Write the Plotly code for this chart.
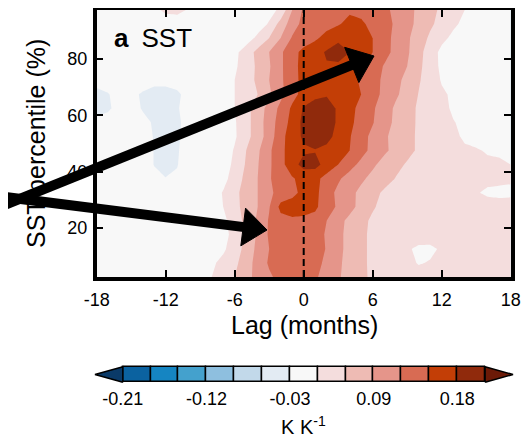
import plotly.graph_objects as go

# The page body has a default 8px margin, so the figure is sized to the
# window minus that margin and all window-pixel positions are shifted by it.
WIN_W, WIN_H = 529, 440
OFF = 8
W, H = WIN_W - OFF, WIN_H - OFF
FONT = "Liberation Sans, Arial, Helvetica, sans-serif"

# ---------------- data ----------------
lags = list(range(-18, 19))  # months
percentiles = [2.5, 7.5, 12.5, 17.5, 22.5, 27.5, 32.5, 37.5, 42.5, 47.5,
               52.5, 57.5, 62.5, 67.5, 72.5, 77.5, 82.5, 87.5, 92.5, 97.5]

# regression of SST (K per K) at each lag (-18..18) for each percentile row
row_02 = [0.005, 0.008, 0.01, 0.01, 0.01, 0.008, 0.008, 0.01, 0.012, 0.015, 0.03, 0.045, 0.06, 0.08, 0.1, 0.115, 0.13, 0.138, 0.135, 0.125, 0.105, 0.093, 0.08, 0.066, 0.055, 0.047, 0.042, 0.038, 0.036, 0.035, 0.035, 0.035, 0.035, 0.035, 0.035, 0.035, 0.034]
row_07 = [0.008, 0.01, 0.012, 0.012, 0.012, 0.01, 0.008, 0.008, 0.01, 0.015, 0.025, 0.038, 0.052, 0.078, 0.1, 0.124, 0.138, 0.145, 0.142, 0.13, 0.113, 0.095, 0.08, 0.066, 0.054, 0.045, 0.039, 0.034, 0.029, 0.031, 0.034, 0.036, 0.036, 0.036, 0.036, 0.035, 0.034]
row_12 = [0.01, 0.01, 0.012, 0.012, 0.01, 0.008, 0.006, 0.006, 0.008, 0.01, 0.012, 0.025, 0.045, 0.07, 0.098, 0.12, 0.138, 0.145, 0.143, 0.134, 0.118, 0.098, 0.08, 0.066, 0.054, 0.045, 0.038, 0.032, 0.027, 0.027, 0.032, 0.035, 0.036, 0.037, 0.037, 0.037, 0.037]
row_17 = [0.01, 0.012, 0.012, 0.01, 0.01, 0.008, 0.007, 0.006, 0.007, 0.009, 0.012, 0.02, 0.04, 0.065, 0.095, 0.124, 0.138, 0.144, 0.143, 0.135, 0.116, 0.098, 0.08, 0.066, 0.054, 0.047, 0.043, 0.04, 0.038, 0.037, 0.037, 0.037, 0.037, 0.038, 0.038, 0.038, 0.038]
row_22 = [0.01, 0.012, 0.012, 0.01, 0.01, 0.008, 0.006, 0.006, 0.008, 0.01, 0.012, 0.022, 0.045, 0.068, 0.095, 0.123, 0.14, 0.147, 0.146, 0.14, 0.12, 0.1, 0.082, 0.068, 0.055, 0.048, 0.044, 0.041, 0.04, 0.039, 0.038, 0.037, 0.037, 0.037, 0.037, 0.038, 0.038]
row_27 = [0.012, 0.012, 0.01, 0.01, 0.008, 0.006, 0.004, 0.004, 0.006, 0.01, 0.015, 0.03, 0.05, 0.072, 0.09, 0.118, 0.158, 0.158, 0.157, 0.155, 0.135, 0.115, 0.1, 0.08, 0.063, 0.052, 0.046, 0.042, 0.04, 0.038, 0.037, 0.036, 0.035, 0.035, 0.035, 0.035, 0.036]
row_32 = [0.01, 0.012, 0.01, 0.008, 0.004, 0.0, -0.005, -0.008, -0.005, 0.0, 0.015, 0.032, 0.052, 0.072, 0.09, 0.113, 0.132, 0.145, 0.155, 0.158, 0.133, 0.113, 0.098, 0.083, 0.068, 0.056, 0.048, 0.043, 0.04, 0.038, 0.036, 0.035, 0.033, 0.031, 0.028, 0.027, 0.027]
row_37 = [0.005, 0.005, 0.002, 0.0, -0.008, -0.022, -0.0295, -0.027, -0.015, -0.005, 0.008, 0.02, 0.044, 0.068, 0.09, 0.117, 0.135, 0.147, 0.16, 0.158, 0.14, 0.124, 0.108, 0.095, 0.082, 0.07, 0.059, 0.05, 0.044, 0.04, 0.037, 0.035, 0.034, 0.034, 0.033, 0.033, 0.032]
row_42 = [-0.01, -0.008, -0.005, -0.005, -0.015, -0.031, -0.035, -0.031, -0.018, -0.008, 0.002, 0.015, 0.037, 0.063, 0.088, 0.115, 0.14, 0.168, 0.19, 0.19, 0.168, 0.15, 0.131, 0.112, 0.095, 0.08, 0.068, 0.057, 0.049, 0.043, 0.039, 0.036, 0.034, 0.033, 0.032, 0.031, 0.03]
row_47 = [-0.012, -0.01, -0.008, -0.006, -0.015, -0.031, -0.034, -0.032, -0.02, -0.01, 0.0, 0.012, 0.033, 0.06, 0.085, 0.114, 0.143, 0.163, 0.176, 0.178, 0.172, 0.163, 0.15, 0.131, 0.111, 0.095, 0.082, 0.068, 0.056, 0.047, 0.04, 0.035, 0.032, 0.031, 0.029, 0.029, 0.03]
row_52 = [-0.015, -0.012, -0.01, -0.008, -0.015, -0.032, -0.034, -0.033, -0.022, -0.01, 0.0, 0.012, 0.026, 0.05, 0.075, 0.104, 0.14, 0.165, 0.185, 0.2, 0.19, 0.17, 0.152, 0.132, 0.112, 0.094, 0.082, 0.068, 0.056, 0.047, 0.039, 0.033, 0.028, 0.026, 0.025, 0.025, 0.026]
row_57 = [-0.022, -0.018, -0.012, -0.01, -0.02, -0.034, -0.036, -0.034, -0.022, -0.008, 0.003, 0.012, 0.027, 0.05, 0.075, 0.105, 0.133, 0.16, 0.188, 0.2, 0.193, 0.176, 0.157, 0.138, 0.122, 0.1, 0.085, 0.07, 0.056, 0.046, 0.038, 0.031, 0.026, 0.024, 0.023, 0.023, 0.024]
row_62 = [-0.04, -0.034, -0.02, -0.015, -0.033, -0.04, -0.038, -0.032, -0.02, -0.005, 0.005, 0.015, 0.03, 0.05, 0.075, 0.1, 0.128, 0.155, 0.183, 0.195, 0.19, 0.177, 0.16, 0.14, 0.124, 0.105, 0.085, 0.071, 0.056, 0.045, 0.036, 0.027, 0.022, 0.02, 0.018, 0.018, 0.02]
row_67 = [-0.038, -0.032, -0.015, -0.02, -0.035, -0.04, -0.04, -0.035, -0.02, -0.005, 0.005, 0.012, 0.03, 0.05, 0.06, 0.085, 0.112, 0.14, 0.16, 0.172, 0.178, 0.175, 0.165, 0.15, 0.131, 0.113, 0.095, 0.078, 0.059, 0.045, 0.034, 0.026, 0.02, 0.017, 0.016, 0.016, 0.017]
row_72 = [-0.02, -0.012, 0.0, 0.005, -0.01, -0.022, -0.022, -0.018, -0.005, 0.005, 0.008, 0.012, 0.03, 0.048, 0.065, 0.09, 0.115, 0.138, 0.16, 0.172, 0.175, 0.172, 0.16, 0.146, 0.13, 0.115, 0.097, 0.083, 0.063, 0.045, 0.028, 0.02, 0.017, 0.015, 0.014, 0.014, 0.015]
row_77 = [0.01, 0.01, 0.012, 0.01, 0.005, 0.0, -0.005, -0.005, -0.002, 0.002, 0.006, 0.01, 0.025, 0.045, 0.065, 0.087, 0.115, 0.14, 0.16, 0.172, 0.178, 0.176, 0.168, 0.155, 0.135, 0.118, 0.104, 0.09, 0.068, 0.042, 0.025, 0.02, 0.015, 0.012, 0.012, 0.012, 0.015]
row_82 = [0.005, 0.008, 0.01, 0.01, 0.008, 0.006, 0.005, 0.004, 0.005, 0.006, 0.008, 0.01, 0.022, 0.045, 0.068, 0.09, 0.115, 0.14, 0.158, 0.17, 0.183, 0.19, 0.18, 0.165, 0.15, 0.13, 0.112, 0.094, 0.072, 0.042, 0.024, 0.02, 0.015, 0.012, 0.012, 0.014, 0.015]
row_87 = [0.0, 0.005, 0.008, 0.01, 0.012, 0.015, 0.015, 0.012, 0.01, 0.008, 0.008, 0.008, 0.01, 0.015, 0.037, 0.06, 0.09, 0.123, 0.135, 0.145, 0.16, 0.175, 0.175, 0.165, 0.15, 0.13, 0.113, 0.095, 0.075, 0.055, 0.036, 0.025, 0.02, 0.018, 0.016, 0.016, 0.018]
row_92 = [0.005, 0.008, 0.01, 0.012, 0.015, 0.018, 0.02, 0.018, 0.015, 0.012, 0.01, 0.01, 0.01, 0.012, 0.015, 0.033, 0.072, 0.105, 0.13, 0.135, 0.14, 0.147, 0.16, 0.156, 0.14, 0.128, 0.117, 0.1, 0.082, 0.065, 0.05, 0.034, 0.025, 0.02, 0.018, 0.018, 0.02]
row_97 = [0.01, 0.01, 0.015, 0.02, 0.02, 0.025, 0.034, 0.036, 0.028, 0.02, 0.015, 0.012, 0.01, 0.012, 0.015, 0.02, 0.036, 0.09, 0.125, 0.13, 0.135, 0.14, 0.145, 0.14, 0.135, 0.125, 0.115, 0.098, 0.085, 0.068, 0.055, 0.042, 0.03, 0.022, 0.02, 0.02, 0.02]

sst_rows = [row_02, row_07, row_12, row_17, row_22, row_27, row_32, row_37, row_42, row_47,
            row_52, row_57, row_62, row_67, row_72, row_77, row_82, row_87, row_92, row_97]
for r in sst_rows:
    assert len(r) == len(lags)

x_ticks = [-18, -12, -6, 0, 6, 12, 18]
y_ticks = [20, 40, 60, 80]

# colour bins: below -0.21, 6 blue bins, white (-0.03..0.03 as 2 bins), 6 red bins, above 0.21
ext_low = "#0a3a68"
blues = ["#0b62a0", "#1585c2", "#44a1cd", "#8ebfdf", "#c2d9ea", "#e3ebf3"]
white = "#f8f8f8"
reds = ["#f4dddd", "#eebbb4", "#e5958a", "#d86b53", "#c33e06", "#902a0c"]
ext_high = "#6c1a07"
band_colors = [ext_low] + blues + [white, white] + reds + [ext_high]
colorscale = [[k / (len(band_colors) - 1), c] for k, c in enumerate(band_colors)]

cb_bounds = [-0.21, -0.18, -0.15, -0.12, -0.09, -0.06, -0.03,
             0.03, 0.06, 0.09, 0.12, 0.15, 0.18, 0.21]
cb_box_colors = blues + [white] + reds
cb_tick_idx = [0, 3, 6, 9, 12]

# ---------------- helpers (window pixel -> paper, margins are zero) ----------------
def px(x):
    return (x - OFF) / W

def py(y):
    return 1 - (y - OFF) / H

fig = go.Figure()

fig.add_trace(go.Contour(
    x=lags, y=percentiles, z=sst_rows,
    autocontour=False,
    contours=dict(start=-0.21, end=0.21, size=0.03, coloring="fill", showlines=False),
    colorscale=colorscale, showscale=False,
    line=dict(width=0, smoothing=0),
    hoverinfo="skip", xaxis="x", yaxis="y"))

fig.add_trace(go.Scatter(
    x=[0, 0], y=[percentiles[0], percentiles[-1]], mode="lines",
    line=dict(color="black", width=2, dash="7px,4px"),
    showlegend=False, hoverinfo="skip", xaxis="x", yaxis="y"))

# ---------------- colour bar drawn on its own axes ----------------
n = len(cb_box_colors)
fig.add_trace(go.Bar(
    x=[i + 0.5 for i in range(n)], y=[1] * n,
    width=1, marker=dict(color=cb_box_colors, line=dict(color="black", width=1.5)),
    showlegend=False, hoverinfo="skip", xaxis="x2", yaxis="y2"))
fig.add_trace(go.Scatter(
    x=[0, -1, 0, 0], y=[0, 0.5, 1, 0], mode="lines", fill="toself",
    fillcolor=ext_low, line=dict(color="black", width=1.5),
    showlegend=False, hoverinfo="skip", xaxis="x2", yaxis="y2"))
fig.add_trace(go.Scatter(
    x=[n, n + 1, n, n], y=[0, 0.5, 1, 0], mode="lines", fill="toself",
    fillcolor=ext_high, line=dict(color="black", width=1.5),
    showlegend=False, hoverinfo="skip", xaxis="x2", yaxis="y2"))

# ---------------- layout ----------------
plot_l, plot_r, plot_t, plot_b = 96.7, 510.7, 10.0, 277.0
cb_l, cb_r = 92.2, 515.8        # includes small padding around triangle tips
cb_t, cb_b = 365.1, 383.9

axis_common = dict(showgrid=False, zeroline=False, ticks="inside", ticklen=7,
                   tickwidth=1.5, tickcolor="black", showline=True, linecolor="black",
                   linewidth=3.5, mirror="ticks",
                   tickfont=dict(family=FONT, size=18, color="black"))

fig.update_layout(
    width=W, height=H, autosize=False,
    margin=dict(l=0, r=0, t=0, b=0, pad=0),
    paper_bgcolor="white", plot_bgcolor="white",
    font=dict(family=FONT, color="black"),
    showlegend=False, template="none", bargap=0,
    xaxis=dict(domain=[px(plot_l), px(plot_r)], range=[-18, 18], anchor="y",
               tickvals=x_ticks, ticktext=[str(v) for v in x_ticks],
               ticklabelstandoff=4, **axis_common),
    yaxis=dict(domain=[py(plot_b), py(plot_t)], range=[percentiles[0], percentiles[-1]],
               anchor="x", tickvals=y_ticks, ticktext=[str(v) for v in y_ticks],
               ticklabelstandoff=2, **axis_common),
    xaxis2=dict(domain=[px(cb_l), px(cb_r)], range=[-1.1, n + 1.1], anchor="y2",
                showgrid=False, zeroline=False, showline=False, ticks="",
                tickvals=cb_tick_idx, ticktext=[f"{cb_bounds[i]:.2f}" for i in cb_tick_idx],
                tickfont=dict(family=FONT, size=18, color="black"), ticklabelstandoff=2),
    yaxis2=dict(domain=[py(cb_b), py(cb_t)], range=[-0.1, 1.1], anchor="x2",
                visible=False, fixedrange=True),
)

annotations = [
    dict(text="Lag (months)", x=px(304), y=py(325), xanchor="center", yanchor="middle",
         font=dict(family=FONT, size=25, color="black")),
    dict(text="SST percentile (%)", x=px(36), y=py(144), xanchor="center", yanchor="middle",
         textangle=-90, font=dict(family=FONT, size=25, color="black")),
    dict(text="K K<sup>-1</sup>", x=px(303), y=py(425), xanchor="center", yanchor="middle",
         font=dict(family=FONT, size=20, color="black")),
    dict(text="<b>a</b>\u2002SST", x=px(112), y=py(38), xanchor="left", yanchor="middle",
         font=dict(family=FONT, size=26, color="black")),
]
for a in annotations:
    a.update(xref="paper", yref="paper", showarrow=False)
fig.update_layout(annotations=annotations)

# ---------------- arrows (overlaid pointers) ----------------
def arrow(tail, tip, shaft=10, head_len=24, head_half=19):
    tx, ty = tail
    hx, hy = tip
    dx, dy = hx - tx, hy - ty
    L = (dx * dx + dy * dy) ** 0.5
    ux, uy = dx / L, dy / L
    nx, ny = -uy, ux
    bx, by = hx - ux * head_len, hy - uy * head_len
    c1 = (bx + nx * head_half, by + ny * head_half)
    c2 = (bx - nx * head_half, by - ny * head_half)
    line = dict(type="line", xref="paper", yref="paper", layer="above",
                x0=px(tx), y0=py(ty), x1=px(bx + ux * 3), y1=py(by + uy * 3),
                line=dict(color="black", width=shaft))
    path = "M{},{} L{},{} L{},{} Z".format(px(hx), py(hy), px(c1[0]), py(c1[1]),
                                          px(c2[0]), py(c2[1]))
    head = dict(type="path", xref="paper", yref="paper", layer="above", path=path,
                fillcolor="black", line=dict(color="black", width=1))
    return [line, head]

shapes = arrow((-3, 208), (374, 56)) + arrow((-3, 196), (267, 230))
fig.update_layout(shapes=shapes)

fig.write_html("out.html")
